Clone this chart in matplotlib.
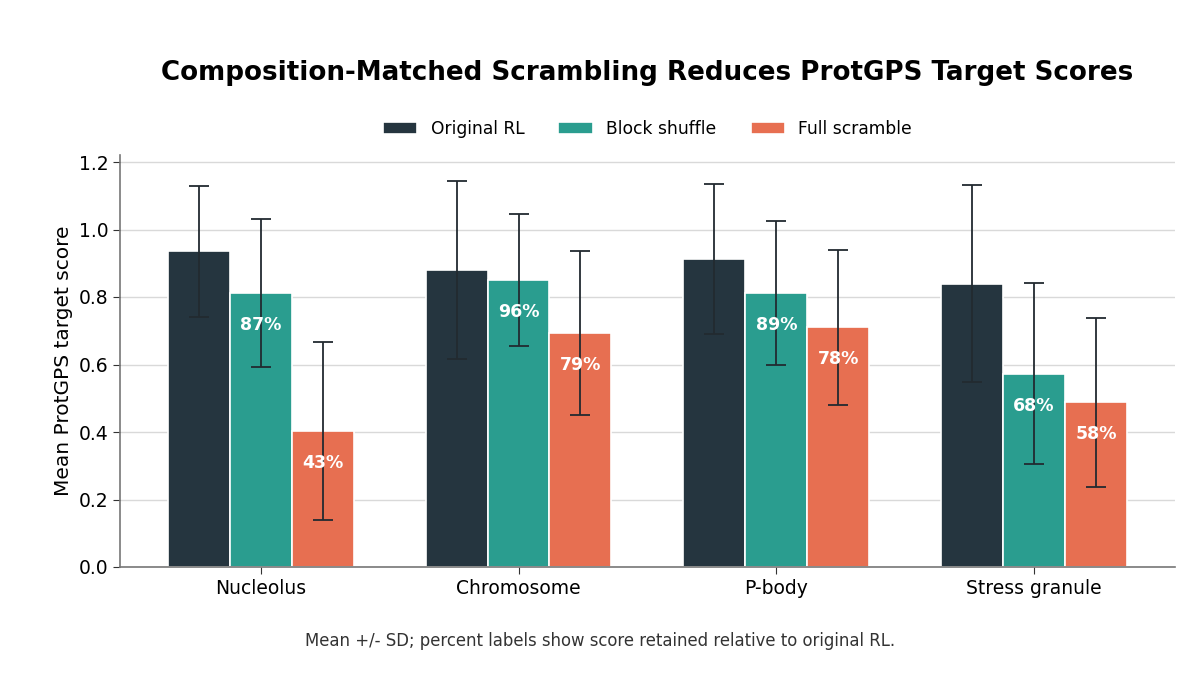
import matplotlib
matplotlib.use("Agg")
import matplotlib.pyplot as plt
import numpy as np

# ---------------------------------------------------------------------------
# Data
# ---------------------------------------------------------------------------
compartments = ["Nucleolus", "Chromosome", "P-body", "Stress granule"]
series_names = ["Original RL", "Block shuffle", "Full scramble"]

original_mean = [0.935, 0.880, 0.913, 0.840]
original_sd   = [0.193, 0.263, 0.223, 0.293]
block_mean    = [0.812, 0.850, 0.812, 0.573]
block_sd      = [0.220, 0.196, 0.212, 0.268]
full_mean     = [0.403, 0.693, 0.710, 0.488]
full_sd       = [0.265, 0.243, 0.230, 0.251]

block_pct = ["87%", "96%", "89%", "68%"]
full_pct  = ["43%", "79%", "78%", "58%"]

yticks = [0.0, 0.2, 0.4, 0.6, 0.8, 1.0, 1.2]

# ---------------------------------------------------------------------------
# Style
# ---------------------------------------------------------------------------
DARK   = "#25353f"
TEAL   = "#2a9d8f"
ORANGE = "#e76f51"
SPINE  = "#777777"
GRID   = "#d9d9d9"

plt.rcParams["font.family"] = "DejaVu Sans"

fig = plt.figure(figsize=(12, 6.75), dpi=100)
ax = fig.add_axes([0.100, 0.160, 0.879, 0.610])

x = np.arange(len(compartments))
width = 0.24
means = [original_mean, block_mean, full_mean]
sds = [original_sd, block_sd, full_sd]
colors = [DARK, TEAL, ORANGE]

bars_all = []
for i, (m, s, c, name) in enumerate(zip(means, sds, colors, series_names)):
    bars = ax.bar(x + (i - 1) * width, m, width, color=c, edgecolor="white",
                  linewidth=1.2, label=name, zorder=2)
    ax.errorbar(x + (i - 1) * width, m, yerr=s, fmt="none", ecolor="#222a30",
                elinewidth=1.3, capsize=7, capthick=1.3, zorder=3)
    bars_all.append(bars)

for bars, labels in [(bars_all[1], block_pct), (bars_all[2], full_pct)]:
    for bar, lab in zip(bars, labels):
        ax.text(bar.get_x() + bar.get_width() / 2, bar.get_height() - 0.095,
                lab, ha="center", va="center", fontsize=12.5,
                fontweight="bold", color="white", zorder=4)

ax.set_xticks(x)
ax.set_xticklabels(compartments, fontsize=13.5)
ax.set_ylim(0, 1.22)
ax.set_yticks(yticks)
ax.set_yticklabels([f"{v:.1f}" for v in yticks], fontsize=13.5)
ax.set_ylabel("Mean ProtGPS target score", fontsize=14.5)
ax.yaxis.grid(True, color=GRID, linewidth=1.0, zorder=0)
ax.set_axisbelow(True)

for side in ["top", "right"]:
    ax.spines[side].set_visible(False)
for side in ["left", "bottom"]:
    ax.spines[side].set_color(SPINE)
    ax.spines[side].set_linewidth(1.2)
ax.tick_params(axis="both", colors="#333333", labelcolor="black", length=5)

ax.set_title("Composition-Matched Scrambling Reduces ProtGPS Target Scores",
             fontsize=18.8, fontweight="bold", pad=54)

ax.legend(loc="lower center", bbox_to_anchor=(0.5, 1.005), ncol=3,
          frameon=False, fontsize=12.3, handlelength=2.0, handleheight=0.7,
          columnspacing=2.0)

fig.text(0.5, 0.051,
         "Mean +/- SD; percent labels show score retained relative to original RL.",
         ha="center", va="center", fontsize=11.9, color="#333333")

fig.savefig("out.png", dpi=100, facecolor="white")
